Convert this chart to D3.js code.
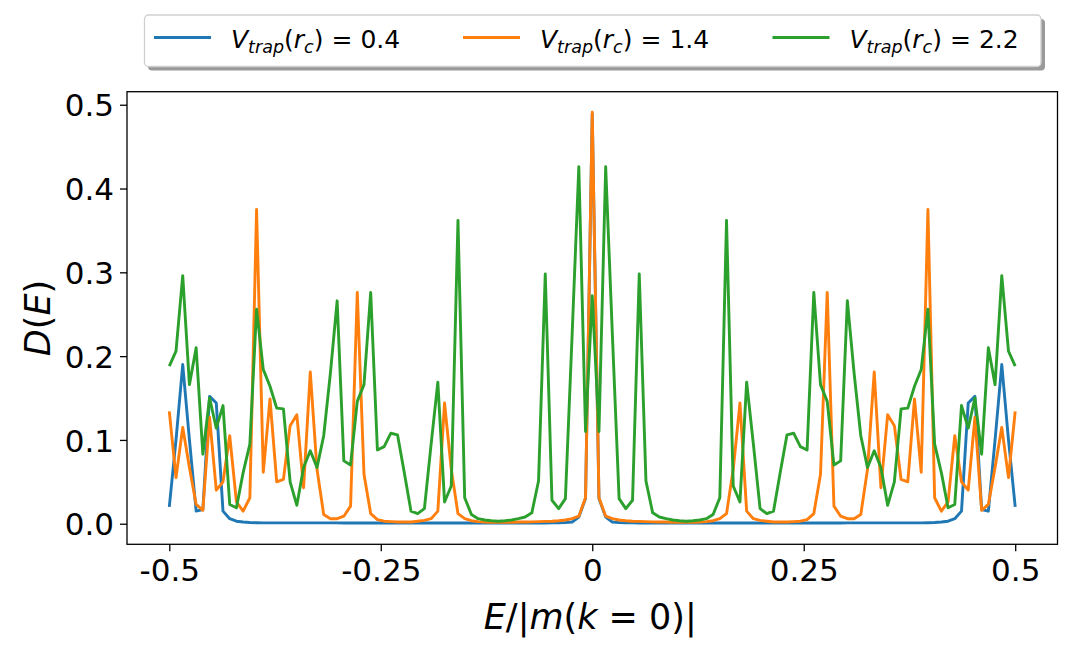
<!DOCTYPE html>
<html><head><meta charset="utf-8">
<script src="https://cdn.jsdelivr.net/npm/d3@7"></script>
<style>
html,body{margin:0;padding:0;background:#fff;}
svg{display:block;font-family:"DejaVu Sans",sans-serif;}
</style></head>
<body>
<svg id="chart" width="1073" height="655"></svg>
<script>
// Data (127 samples from E=-0.5 to 0.5)
const xStart = -0.5, xEnd = 0.5;
const blueValues = [0.020,0.100,0.190,0.100,0.015,0.017,0.152,0.144,0.015,0.006,0.003,0.002,0.0015,0.0012,
0.001,0.001,0.001,0.001,0.001,0.001,0.001,0.001,0.001,0.001,0.001,0.001,
0.0008,0.0008,0.0008,0.0008,0.0008,0.0008,0.0008,0.0008,0.0008,0.0008,0.0008,0.0008,0.0008,0.0008,0.0008,
0.0008,0.0008,0.0008,0.0008,0.0008,0.0008,0.0008,0.0008,0.0008,0.0008,0.0008,0.0008,0.0008,0.0008,0.0008,
0.0009,0.001,0.0011,0.0013,0.002,0.008,0.030,0.489,
0.030,0.008,0.002,0.0013,0.0011,0.001,0.0009,
0.0008,0.0008,0.0008,0.0008,0.0008,0.0008,0.0008,0.0008,0.0008,0.0008,0.0008,0.0008,0.0008,0.0008,0.0008,
0.0008,0.0008,0.0008,0.0008,0.0008,0.0008,0.0008,0.0008,0.0008,0.0008,0.0008,0.0008,0.0008,0.0008,0.0008,
0.001,0.001,0.001,0.001,0.001,0.001,0.001,0.001,0.001,0.001,0.001,0.001,
0.0012,0.0015,0.002,0.003,0.006,0.015,0.144,0.152,0.017,0.015,0.100,0.190,0.100,0.020];
const orangeValues = [0.134,0.055,0.115,0.067,0.023,0.016,0.127,0.040,0.050,0.105,
0.026,0.015,0.031,0.375,0.0615,0.149,0.050,0.053,0.117,0.130,
0.043,0.181,0.065,0.011,0.006,0.006,0.009,0.021,0.276,0.059,
0.012,0.005,0.003,0.0025,0.002,0.002,0.002,0.003,0.004,0.006,
0.015,0.144,0.065,0.012,0.006,0.0036,0.0025,0.002,0.0018,0.0017,
0.0017,0.0018,0.002,0.002,0.0022,0.0025,0.0028,0.003,0.0035,0.0045,
0.006,0.009,0.031,0.491,
0.031,0.009,0.006,
0.0045,0.0035,0.003,0.0028,0.0025,0.0022,0.002,0.002,0.0018,0.0017,
0.0017,0.0018,0.002,0.0025,0.0036,0.006,0.012,0.065,0.144,0.015,
0.006,0.004,0.003,0.002,0.002,0.002,0.0025,0.003,0.005,0.012,
0.059,0.276,0.021,0.009,0.006,0.006,0.011,0.065,0.181,0.043,
0.130,0.117,0.053,0.050,0.149,0.0615,0.375,0.031,0.015,0.026,
0.105,0.050,0.040,0.127,0.016,0.023,0.067,0.115,0.055,0.134];
const greenValues = [0.188,0.206,0.296,0.166,0.210,0.083,0.150,0.114,0.141,0.023,
0.019,0.061,0.095,0.256,0.184,0.164,0.138,0.137,0.050,0.022,
0.067,0.087,0.067,0.105,0.180,0.266,0.075,0.070,0.146,0.166,
0.276,0.088,0.092,0.108,0.106,0.061,0.015,0.012,0.018,0.095,
0.169,0.026,0.045,0.362,0.031,0.011,0.006,0.0044,0.0036,0.003,
0.0036,0.0044,0.006,0.008,0.013,0.051,0.298,0.028,0.018,0.030,
0.225,0.426,0.110,0.272,
0.110,0.426,0.225,
0.030,0.018,0.028,0.298,0.051,0.013,0.008,0.006,0.0044,0.0036,
0.003,0.0036,0.0044,0.006,0.011,0.031,0.362,0.045,0.026,0.169,
0.095,0.018,0.012,0.015,0.061,0.106,0.108,0.092,0.088,0.276,
0.166,0.146,0.070,0.075,0.266,0.180,0.105,0.067,0.087,0.067,
0.022,0.050,0.137,0.138,0.164,0.184,0.256,0.095,0.061,0.019,
0.023,0.141,0.114,0.150,0.083,0.210,0.166,0.296,0.206,0.188];
const seriesLabels = ["0.4","1.4","2.2"];
const seriesColors = ["#1f77b4","#ff7f0e","#2ca02c"];
const xTickValues = [-0.5,-0.25,0,0.25,0.5];
const xTickLabels = ["-0.5","-0.25","0","0.25","0.5"];
const yTickValues = [0,0.1,0.2,0.3,0.4,0.5];
const yTickLabels = ["0.0","0.1","0.2","0.3","0.4","0.5"];

const svg = d3.select("#chart");
const L = 127, R = 1057.5, T = 91.7, B = 544.3;
const allSeries = [blueValues, orangeValues, greenValues];
const n = blueValues.length;
const xs = d3.range(n).map(i => xStart + (xEnd - xStart) * i / (n - 1));
const yMax = d3.max(allSeries.flat());
const yMargin = yMax * 0.05;
const x = d3.scaleLinear().domain([-0.55, 0.55]).range([L, R]);
const y = d3.scaleLinear().domain([-yMargin, yMax + yMargin]).range([B, T]);

const line = d3.line().x((d,i) => x(xs[i])).y(d => y(d));
const g = svg.append("g");
g.append("defs").append("clipPath").attr("id","clip").append("rect")
  .attr("x",L).attr("y",T).attr("width",R-L).attr("height",B-T);
allSeries.forEach((vals, k) => {
  g.append("path").datum(vals).attr("d", line)
    .attr("fill","none").attr("stroke", seriesColors[k])
    .attr("stroke-width",2.9).attr("stroke-linejoin","round").attr("stroke-linecap","butt")
    .attr("clip-path","url(#clip)");
});

// axes
const xAxis = d3.axisBottom(x).tickValues(xTickValues).tickFormat((d,i)=>xTickLabels[i]).tickSize(7).tickPadding(6);
const yAxis = d3.axisLeft(y).tickValues(yTickValues).tickFormat((d,i)=>yTickLabels[i]).tickSize(7).tickPadding(6);
const gx = svg.append("g").attr("transform",`translate(0,${B})`).call(xAxis);
const gy = svg.append("g").attr("transform",`translate(${L},0)`).call(yAxis);
[gx,gy].forEach(a=>{
  a.select(".domain").remove();
  a.selectAll(".tick line").attr("stroke","#000").attr("stroke-width",1.3);
  a.selectAll(".tick text").attr("fill","#000").attr("font-size",31).attr("font-family","DejaVu Sans");
});
gy.selectAll(".tick text").attr("dy","0.36em");
gx.selectAll(".tick text").attr("dy","0.76em");
svg.append("rect").attr("x",L).attr("y",T).attr("width",R-L).attr("height",B-T)
  .attr("fill","none").attr("stroke","#000").attr("stroke-width",1.3);

// axis labels
const xl = svg.append("text").attr("x",(L+R)/2 - 2).attr("y",629).attr("text-anchor","middle")
  .attr("font-size",35).attr("fill","#000");
xl.append("tspan").attr("font-style","italic").text("E");
xl.append("tspan").text("/|");
xl.append("tspan").attr("font-style","italic").text("m");
xl.append("tspan").text("(");
xl.append("tspan").attr("font-style","italic").text("k");
xl.append("tspan").text(" = 0)|");

const yl = svg.append("text").attr("transform",`translate(50,${(T+B)/2}) rotate(-90)`)
  .attr("text-anchor","middle").attr("font-size",35).attr("fill","#000");
yl.append("tspan").attr("font-style","italic").text("D");
yl.append("tspan").text("(");
yl.append("tspan").attr("font-style","italic").text("E");
yl.append("tspan").text(")");

// legend
const lg = svg.append("g");
lg.append("rect").attr("x",148).attr("y",19).attr("width",897).attr("height",51.5)
  .attr("rx",4).attr("fill","#9a9a9a");
lg.append("rect").attr("x",144.5).attr("y",15).attr("width",896.5).attr("height",51.5)
  .attr("rx",4).attr("fill","#fff").attr("stroke","#d0d0d0").attr("stroke-width",1.3);
const handleX = [154, 463, 772.5];
seriesLabels.forEach((lab,k) => {
  lg.append("line").attr("x1",handleX[k]).attr("x2",handleX[k]+57).attr("y1",37.5).attr("y2",37.5)
    .attr("stroke",seriesColors[k]).attr("stroke-width",2.9);
  const t = lg.append("text").attr("x",handleX[k]+77).attr("y",48).attr("font-size",25).attr("fill","#000");
  t.append("tspan").attr("font-style","italic").text("V");
  t.append("tspan").attr("font-style","italic").attr("font-size",17.5).attr("dy",5).text("trap");
  t.append("tspan").attr("dy",-5).text("(");
  t.append("tspan").attr("font-style","italic").text("r");
  t.append("tspan").attr("font-style","italic").attr("font-size",17.5).attr("dy",5).text("c");
  t.append("tspan").attr("dy",-5).text(")");
  t.append("tspan").attr("dx",8).text("=");
  t.append("tspan").attr("dx",8).text(lab);
});
</script>
</body></html>
